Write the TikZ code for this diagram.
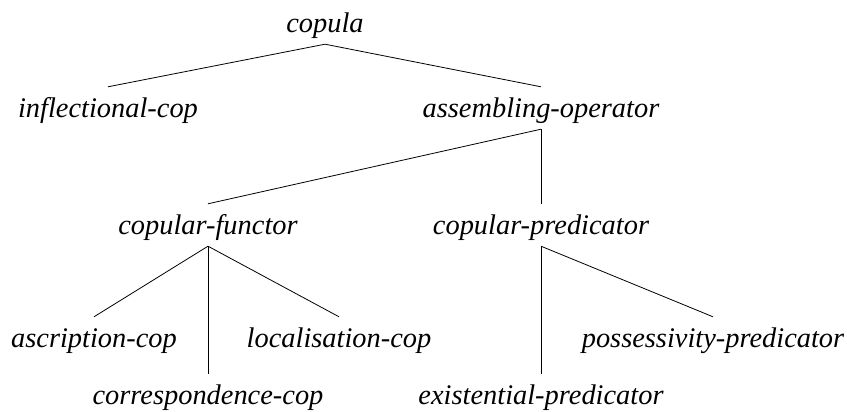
\documentclass[tikz,border=0pt]{standalone}
\usepackage{fontspec}
\setmainfont{Liberation Serif}
\usepackage{tikz}
\usetikzlibrary{positioning}
\tikzstyle{branch} = [draw, line width=0.8pt, color=black]

\begin{document}
\begin{tikzpicture}[x=1pt, y=1pt,
	word/.style={anchor=base, inner sep=5pt, text height=26pt, text depth=6pt,
		font=\itshape\fontsize{28.4}{34}\selectfont}]
	\useasboundingbox (0,0) rectangle (847,412);
	%% Types
	\node[word] (cop) at (325,379) {copula};
	\node[word] (infl) at (108,294) {inflectional-cop};
	\node[word] (asm) at (541,294) {assembling-operator};
	\node[word] (func) at (208,177) {copular-functor};
	\node[word] (pred) at (541,177) {copular-predicator};
	\node[word] (ascr) at (94,64) {ascription-cop};
	\node[word] (loc) at (339,64) {localisation-cop};
	\node[word] (corr) at (208,7) {correspondence-cop};
	\node[word] (exist) at (541,7) {existential-predicator};
	\node[word] (poss) at (713,64) {possessivity-predicator};
	%% Branches
	\path [branch] (cop.south) -- (infl.north);
	\path [branch] (cop.south) -- (asm.north);
	\path [branch] (asm.south) -- (func.north);
	\path [branch] (asm.south) -- (pred.north);
	\path [branch] (func.south) -- (ascr.north);
	\path [branch] (func.south) -- (corr.north);
	\path [branch] (func.south) -- (loc.north);
	\path [branch] (pred.south) -- (exist.north);
	\path [branch] (pred.south) -- (poss.north);
\end{tikzpicture}
\end{document}
